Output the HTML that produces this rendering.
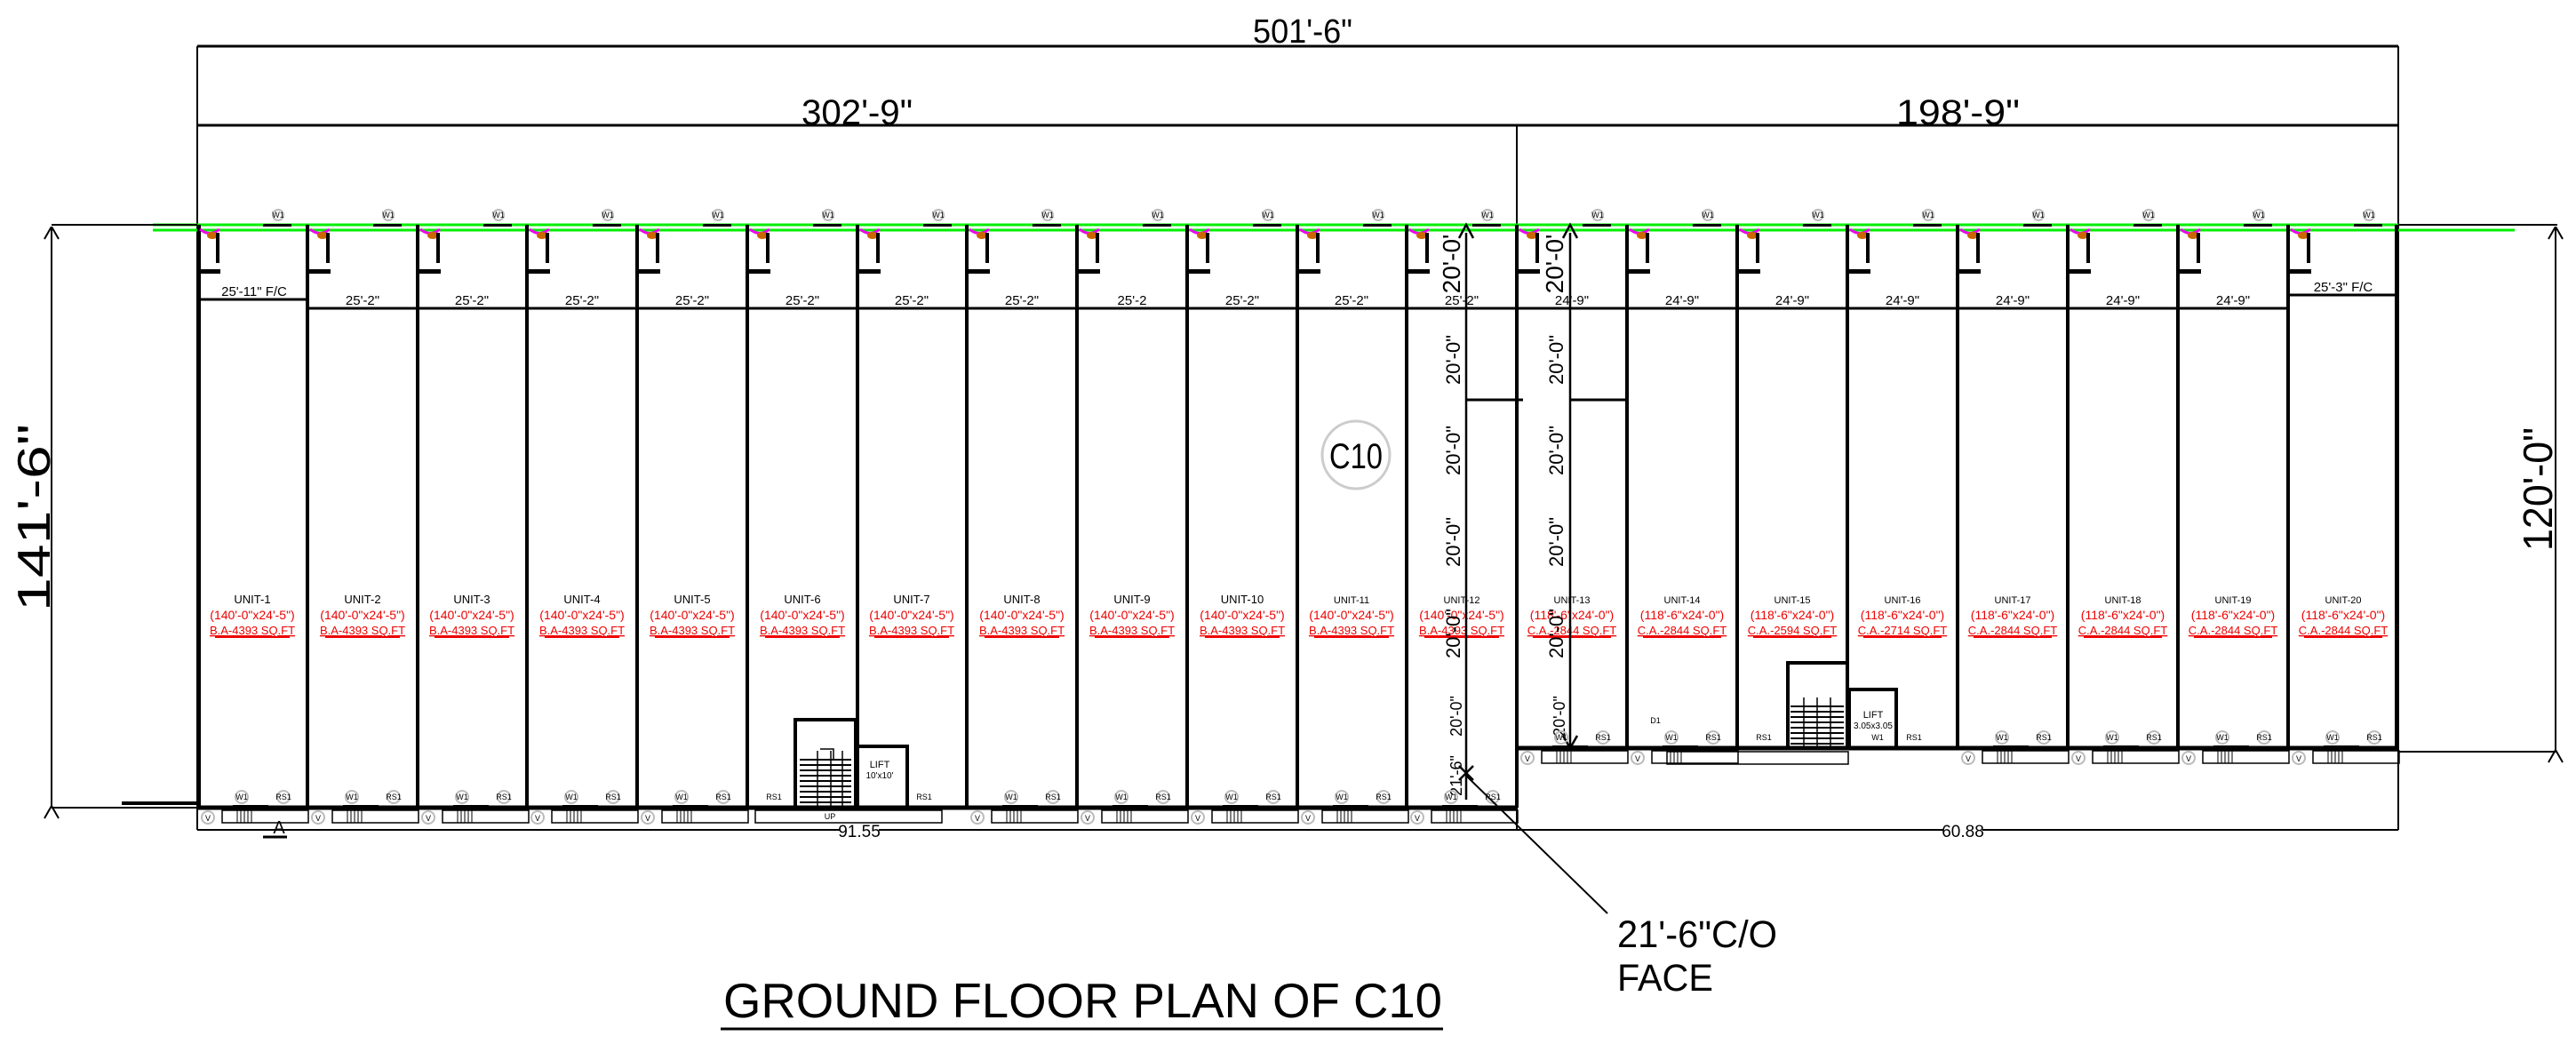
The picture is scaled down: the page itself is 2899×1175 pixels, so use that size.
<!DOCTYPE html>
<html><head><meta charset="utf-8"><style>
html,body{margin:0;padding:0;background:#fff}
svg{display:block}
text{font-family:"Liberation Sans",sans-serif}
.u{font-size:13px;fill:#000;text-anchor:middle}
.d{font-size:14px;fill:#e00;text-anchor:middle}
.a{font-size:13px;fill:#e00;text-anchor:middle;text-decoration:underline}
.dm{font-size:15px;fill:#000;text-anchor:middle}
.s{font-size:9px;fill:#000;text-anchor:middle}
.v{font-size:22px;fill:#000;text-anchor:middle}
</style></head><body>
<svg width="2899" height="1175" viewBox="0 0 2899 1175" xmlns="http://www.w3.org/2000/svg">
<defs>
<g id="t">
<path d="M3 5 Q14 14 25 5" stroke="#e0e" stroke-width="3" fill="none"/>
<ellipse cx="17" cy="12" rx="6" ry="4" fill="#c60"/>
<rect x="21" y="9" width="4" height="34" fill="#000"/>
<rect x="2" y="50" width="24" height="5" fill="#000"/>
<rect x="31" y="-1" width="32" height="3" fill="#000" transform="translate(43,0)"/>
<circle cx="91" cy="-11" r="6" fill="none" stroke="#bbb" stroke-width="2"/>
</g>
<g id="b">
<circle cx="12" cy="11" r="7" fill="none" stroke="#bbb" stroke-width="2"/>
<rect x="28" y="3" width="97" height="14" fill="none" stroke="#000" stroke-width="1.5"/>
<path d="M45 3V17M49 3V17M53 3V17M57 3V17M61 3V17" stroke="#000" stroke-width="1"/>
<circle cx="50" cy="-12" r="7" fill="none" stroke="#bbb" stroke-width="2"/>
<circle cx="97" cy="-12" r="7" fill="none" stroke="#bbb" stroke-width="2"/>
<rect x="40" y="-3" width="40" height="4" fill="#000"/>
</g>
<marker id="ar" viewBox="0 0 20 20" refX="0" refY="10" markerWidth="20" markerHeight="20" orient="auto" markerUnits="userSpaceOnUse"><path d="M14 2 L0 10 L14 18" fill="none" stroke="#000" stroke-width="2"/></marker>
</defs>

<!-- overall dimension frames -->
<g stroke="#000" fill="none">
<path d="M222 52H2699M222 141H2699" stroke-width="3"/>
<path d="M222 52V934M2699 52V934M1707 141V934" stroke-width="2"/>
</g>
<text x="1410" y="48" font-size="38" textLength="112" lengthAdjust="spacingAndGlyphs">501'-6"</text>
<text x="902" y="140" font-size="40" textLength="125" lengthAdjust="spacingAndGlyphs">302'-9"</text>
<text x="2134" y="140" font-size="40" textLength="139" lengthAdjust="spacingAndGlyphs">198'-9"</text>

<!-- green lines -->
<path d="M172 253H2699" stroke="#0e0" stroke-width="3"/>
<path d="M172 259H2830" stroke="#0e0" stroke-width="3"/>

<!-- left overall dim -->
<path d="M58 253H222M58 909H222" stroke="#000" stroke-width="2"/>
<path d="M137 904H222" stroke="#000" stroke-width="4"/>
<path d="M58 255V907" stroke="#000" stroke-width="2" marker-start="url(#ar)" marker-end="url(#ar)"/>
<text transform="translate(56,688) rotate(-90)" font-size="52" textLength="211" lengthAdjust="spacingAndGlyphs">141'-6"</text>
<!-- right overall dim -->
<path d="M2699 253H2878M2699 846H2878" stroke="#000" stroke-width="2"/>
<path d="M2876 255V844" stroke="#000" stroke-width="2" marker-start="url(#ar)" marker-end="url(#ar)"/>
<text transform="translate(2872,620) rotate(-90)" font-size="46" textLength="139" lengthAdjust="spacingAndGlyphs">120'-0"</text>

<!-- unit dividers -->
<g stroke="#000" stroke-width="4">
<path d="M224 253V909M346 253V909M470 253V909M593 253V909M717 253V909M841 253V909M965 253V909M1088 253V909M1212 253V909M1336 253V909M1460 253V909M1583 253V909M1707 253V909"/>
<path d="M1831 253V842M1955 253V842M2079 253V842M2203 253V842M2327 253V842M2451 253V842M2575 253V842M2697 253V842"/>
<path d="M222 909H1707" stroke-width="5"/>
<path d="M1707 842H2699" stroke-width="5"/>
</g>
<!-- dim row -->
<path d="M346 347H2575M222 337H346M2575 332H2699" stroke="#000" stroke-width="3"/>
<path d="M1650 450H1714M1767 450H1830" stroke="#000" stroke-width="3"/>

<!-- toilets -->
<use href="#t" x="222" y="253"/><use href="#t" x="346" y="253"/><use href="#t" x="470" y="253"/><use href="#t" x="593" y="253"/><use href="#t" x="717" y="253"/><use href="#t" x="841" y="253"/><use href="#t" x="965" y="253"/><use href="#t" x="1088" y="253"/><use href="#t" x="1212" y="253"/><use href="#t" x="1336" y="253"/><use href="#t" x="1460" y="253"/><use href="#t" x="1583" y="253"/><use href="#t" x="1707" y="253"/><use href="#t" x="1831" y="253"/><use href="#t" x="1955" y="253"/><use href="#t" x="2079" y="253"/><use href="#t" x="2203" y="253"/><use href="#t" x="2327" y="253"/><use href="#t" x="2451" y="253"/><use href="#t" x="2575" y="253"/>
<g class="s">
<text x="313" y="245">W1</text><text x="437" y="245">W1</text><text x="561" y="245">W1</text><text x="684" y="245">W1</text><text x="808" y="245">W1</text><text x="932" y="245">W1</text><text x="1056" y="245">W1</text><text x="1179" y="245">W1</text><text x="1303" y="245">W1</text><text x="1427" y="245">W1</text><text x="1551" y="245">W1</text><text x="1674" y="245">W1</text><text x="1798" y="245">W1</text><text x="1922" y="245">W1</text><text x="2046" y="245">W1</text><text x="2170" y="245">W1</text><text x="2294" y="245">W1</text><text x="2418" y="245">W1</text><text x="2542" y="245">W1</text><text x="2666" y="245">W1</text>
</g>

<!-- dim texts -->
<g class="dm">
<text x="286" y="333">25'-11" F/C</text>
<text x="408" y="343">25'-2"</text><text x="531" y="343">25'-2"</text><text x="655" y="343">25'-2"</text><text x="779" y="343">25'-2"</text><text x="903" y="343">25'-2"</text><text x="1026" y="343">25'-2"</text><text x="1150" y="343">25'-2"</text><text x="1274" y="343">25'-2</text><text x="1398" y="343">25'-2"</text><text x="1521" y="343">25'-2"</text><text x="1645" y="343">25'-2"</text>
<text x="1769" y="343">24'-9"</text><text x="1893" y="343">24'-9"</text><text x="2017" y="343">24'-9"</text><text x="2141" y="343">24'-9"</text><text x="2265" y="343">24'-9"</text><text x="2389" y="343">24'-9"</text><text x="2513" y="343">24'-9"</text>
<text x="2637" y="328">25'-3" F/C</text>
</g>

<!-- unit labels -->
<g class="u">
<text x="284" y="679">UNIT-1</text><text x="408" y="679">UNIT-2</text><text x="531" y="679">UNIT-3</text><text x="655" y="679">UNIT-4</text><text x="779" y="679">UNIT-5</text><text x="903" y="679">UNIT-6</text><text x="1026" y="679">UNIT-7</text><text x="1150" y="679">UNIT-8</text><text x="1274" y="679">UNIT-9</text><text x="1398" y="679">UNIT-10</text>
<text x="1521" y="679" font-size="11">UNIT-11</text><text x="1645" y="679" font-size="11">UNIT-12</text><text x="1769" y="679" font-size="11">UNIT-13</text><text x="1893" y="679" font-size="11">UNIT-14</text><text x="2017" y="679" font-size="11">UNIT-15</text><text x="2141" y="679" font-size="11">UNIT-16</text><text x="2265" y="679" font-size="11">UNIT-17</text><text x="2389" y="679" font-size="11">UNIT-18</text><text x="2513" y="679" font-size="11">UNIT-19</text><text x="2637" y="679" font-size="11">UNIT-20</text>
</g>
<g class="d">
<text x="284" y="697">(140'-0"x24'-5")</text><text x="408" y="697">(140'-0"x24'-5")</text><text x="531" y="697">(140'-0"x24'-5")</text><text x="655" y="697">(140'-0"x24'-5")</text><text x="779" y="697">(140'-0"x24'-5")</text><text x="903" y="697">(140'-0"x24'-5")</text><text x="1026" y="697">(140'-0"x24'-5")</text><text x="1150" y="697">(140'-0"x24'-5")</text><text x="1274" y="697">(140'-0"x24'-5")</text><text x="1398" y="697">(140'-0"x24'-5")</text><text x="1521" y="697">(140'-0"x24'-5")</text><text x="1645" y="697">(140'-0"x24'-5")</text>
<text x="1769" y="697">(118'-6"x24'-0")</text><text x="1893" y="697">(118'-6"x24'-0")</text><text x="2017" y="697">(118'-6"x24'-0")</text><text x="2141" y="697">(118'-6"x24'-0")</text><text x="2265" y="697">(118'-6"x24'-0")</text><text x="2389" y="697">(118'-6"x24'-0")</text><text x="2513" y="697">(118'-6"x24'-0")</text><text x="2637" y="697">(118'-6"x24'-0")</text>
</g>
<g class="a">
<text x="284" y="714">B.A-4393 SQ.FT</text><text x="408" y="714">B.A-4393 SQ.FT</text><text x="531" y="714">B.A-4393 SQ.FT</text><text x="655" y="714">B.A-4393 SQ.FT</text><text x="779" y="714">B.A-4393 SQ.FT</text><text x="903" y="714">B.A-4393 SQ.FT</text><text x="1026" y="714">B.A-4393 SQ.FT</text><text x="1150" y="714">B.A-4393 SQ.FT</text><text x="1274" y="714">B.A-4393 SQ.FT</text><text x="1398" y="714">B.A-4393 SQ.FT</text><text x="1521" y="714">B.A-4393 SQ.FT</text><text x="1645" y="714">B.A-4393 SQ.FT</text>
<text x="1769" y="714">C.A.-2844 SQ.FT</text><text x="1893" y="714">C.A.-2844 SQ.FT</text><text x="2017" y="714">C.A.-2594 SQ.FT</text><text x="2141" y="714">C.A.-2714 SQ.FT</text><text x="2265" y="714">C.A.-2844 SQ.FT</text><text x="2389" y="714">C.A.-2844 SQ.FT</text><text x="2513" y="714">C.A.-2844 SQ.FT</text><text x="2637" y="714">C.A.-2844 SQ.FT</text>
</g>
<g stroke="#e00" stroke-width="2">
<path d="M242 717H326M366 717H450M489 717H573M613 717H697M737 717H821M861 717H945M984 717H1068M1108 717H1192M1232 717H1316M1356 717H1440M1479 717H1563M1603 717H1687M1725 717H1813M1849 717H1937M1973 717H2061M2097 717H2185M2221 717H2309M2345 717H2433M2469 717H2557M2593 717H2681"/>
</g>

<!-- C10 -->
<circle cx="1526" cy="512" r="38" fill="none" stroke="#ccc" stroke-width="3"/>
<text x="1496" y="527" font-size="40" textLength="60" lengthAdjust="spacingAndGlyphs">C10</text>

<!-- vertical 20'-0" dims -->
<path d="M1650 262V900M1767 262V842" stroke="#000" stroke-width="2.5"/>
<path d="M1642 268L1650 253L1658 268M1759 268L1767 253L1775 268M1759 828L1767 842L1775 828M1642 862L1658 878M1658 862L1642 878" stroke="#000" stroke-width="2.5" fill="none"/>
<g class="v">
<text transform="translate(1643,297) rotate(-90)" font-size="28">20'-0'</text>
<text transform="translate(1643,405) rotate(-90)">20'-0"</text>
<text transform="translate(1643,507) rotate(-90)">20'-0"</text>
<text transform="translate(1643,610) rotate(-90)">20'-0"</text>
<text transform="translate(1643,713) rotate(-90)">20'-0"</text>
<text transform="translate(1645,806) rotate(-90)" font-size="18">20'-0"</text>
<text transform="translate(1645,873) rotate(-90)" font-size="18">21'-6"</text>
<text transform="translate(1759,297) rotate(-90)" font-size="28">20'-0'</text>
<text transform="translate(1759,405) rotate(-90)">20'-0"</text>
<text transform="translate(1759,507) rotate(-90)">20'-0"</text>
<text transform="translate(1759,610) rotate(-90)">20'-0"</text>
<text transform="translate(1759,713) rotate(-90)">20'-0"</text>
<text transform="translate(1761,806) rotate(-90)" font-size="18">20'-0"</text>
</g>

<!-- bottom strips -->
<use href="#b" x="222" y="909"/><use href="#b" x="346" y="909"/><use href="#b" x="470" y="909"/><use href="#b" x="593" y="909"/><use href="#b" x="717" y="909"/><use href="#b" x="1088" y="909"/><use href="#b" x="1212" y="909"/><use href="#b" x="1336" y="909"/><use href="#b" x="1460" y="909"/><use href="#b" x="1583" y="909"/>
<use href="#b" x="1707" y="842"/><use href="#b" x="1831" y="842"/><use href="#b" x="2203" y="842"/><use href="#b" x="2327" y="842"/><use href="#b" x="2451" y="842"/><use href="#b" x="2575" y="842"/>
<path d="M850 912H1060V926H850ZM1876 846H2080V860H1876Z" fill="none" stroke="#000" stroke-width="1.5"/>
<g class="s">
<text x="234" y="924">V</text><text x="358" y="924">V</text><text x="482" y="924">V</text><text x="605" y="924">V</text><text x="729" y="924">V</text><text x="1100" y="924">V</text><text x="1224" y="924">V</text><text x="1348" y="924">V</text><text x="1472" y="924">V</text><text x="1595" y="924">V</text>
<text x="272" y="900">W1</text><text x="319" y="900">RS1</text><text x="396" y="900">W1</text><text x="443" y="900">RS1</text><text x="520" y="900">W1</text><text x="567" y="900">RS1</text><text x="643" y="900">W1</text><text x="690" y="900">RS1</text><text x="767" y="900">W1</text><text x="814" y="900">RS1</text><text x="871" y="900">RS1</text><text x="1040" y="900">RS1</text><text x="1138" y="900">W1</text><text x="1185" y="900">RS1</text><text x="1262" y="900">W1</text><text x="1309" y="900">RS1</text><text x="1386" y="900">W1</text><text x="1433" y="900">RS1</text><text x="1510" y="900">W1</text><text x="1557" y="900">RS1</text><text x="1633" y="900">W1</text><text x="1680" y="900">RS1</text>
<text x="1719" y="857">V</text><text x="1843" y="857">V</text><text x="2215" y="857">V</text><text x="2339" y="857">V</text><text x="2463" y="857">V</text><text x="2587" y="857">V</text>
<text x="1757" y="833">W1</text><text x="1804" y="833">RS1</text><text x="1881" y="833">W1</text><text x="1928" y="833">RS1</text><text x="1985" y="833">RS1</text><text x="2113" y="833">W1</text><text x="2154" y="833">RS1</text><text x="2253" y="833">W1</text><text x="2300" y="833">RS1</text><text x="2377" y="833">W1</text><text x="2424" y="833">RS1</text><text x="2501" y="833">W1</text><text x="2548" y="833">RS1</text><text x="2625" y="833">W1</text><text x="2672" y="833">RS1</text>
<text x="1863" y="814">D1</text>
<text x="934" y="922">UP</text>
</g>

<!-- stairs & lifts -->
<g fill="none" stroke="#000">
<path d="M895 909V810H963V909" stroke-width="4"/>
<path d="M965 909V840H1021V909" stroke-width="4"/>
<path d="M900 855H958M900 861H958M900 867H958M900 873H958M900 879H958M900 885H958M900 891H958M900 897H958M900 903H958" stroke-width="2"/>
<path d="M920 845V909M935 845V909M948 845V909M923 843H938V855" stroke-width="1.5"/>
<path d="M2012 842V746H2079M2081 842V776H2134V842" stroke-width="4"/>
<path d="M2015 795H2075M2015 801H2075M2015 807H2075M2015 813H2075M2015 819H2075M2015 825H2075M2015 831H2075M2015 837H2075" stroke-width="2"/>
<path d="M2030 785V842M2045 785V842M2060 785V842" stroke-width="1.5"/>
</g>
<text x="990" y="864" font-size="11" text-anchor="middle">LIFT</text>
<text x="990" y="876" font-size="10" text-anchor="middle">10'x10'</text>
<text x="2108" y="808" font-size="11" text-anchor="middle">LIFT</text>
<text x="2108" y="820" font-size="10" text-anchor="middle">3.05x3.05</text>

<!-- bottom dims -->
<path d="M222 934H1707M1707 934H2699" stroke="#000" stroke-width="2"/>
<rect x="945" y="927" width="44" height="16" fill="#fff"/>
<text x="967" y="942" font-size="19" text-anchor="middle">91.55</text>
<rect x="2187" y="927" width="44" height="16" fill="#fff"/>
<text x="2209" y="942" font-size="19" text-anchor="middle">60.88</text>
<text x="314" y="938" font-size="20" text-anchor="middle">A</text>
<path d="M296 942H323" stroke="#000" stroke-width="3"/>

<!-- leader -->
<path d="M1650 873L1809 1028" stroke="#000" stroke-width="2"/>
<text x="1820" y="1066" font-size="43" textLength="180" lengthAdjust="spacingAndGlyphs">21'-6"C/O</text>
<text x="1820" y="1115" font-size="43" textLength="108" lengthAdjust="spacingAndGlyphs">FACE</text>

<!-- title -->
<text x="814" y="1145" font-size="55" textLength="809" lengthAdjust="spacingAndGlyphs">GROUND FLOOR PLAN OF C10</text>
<path d="M811 1158H1624" stroke="#000" stroke-width="3"/>
</svg>
</body></html>
